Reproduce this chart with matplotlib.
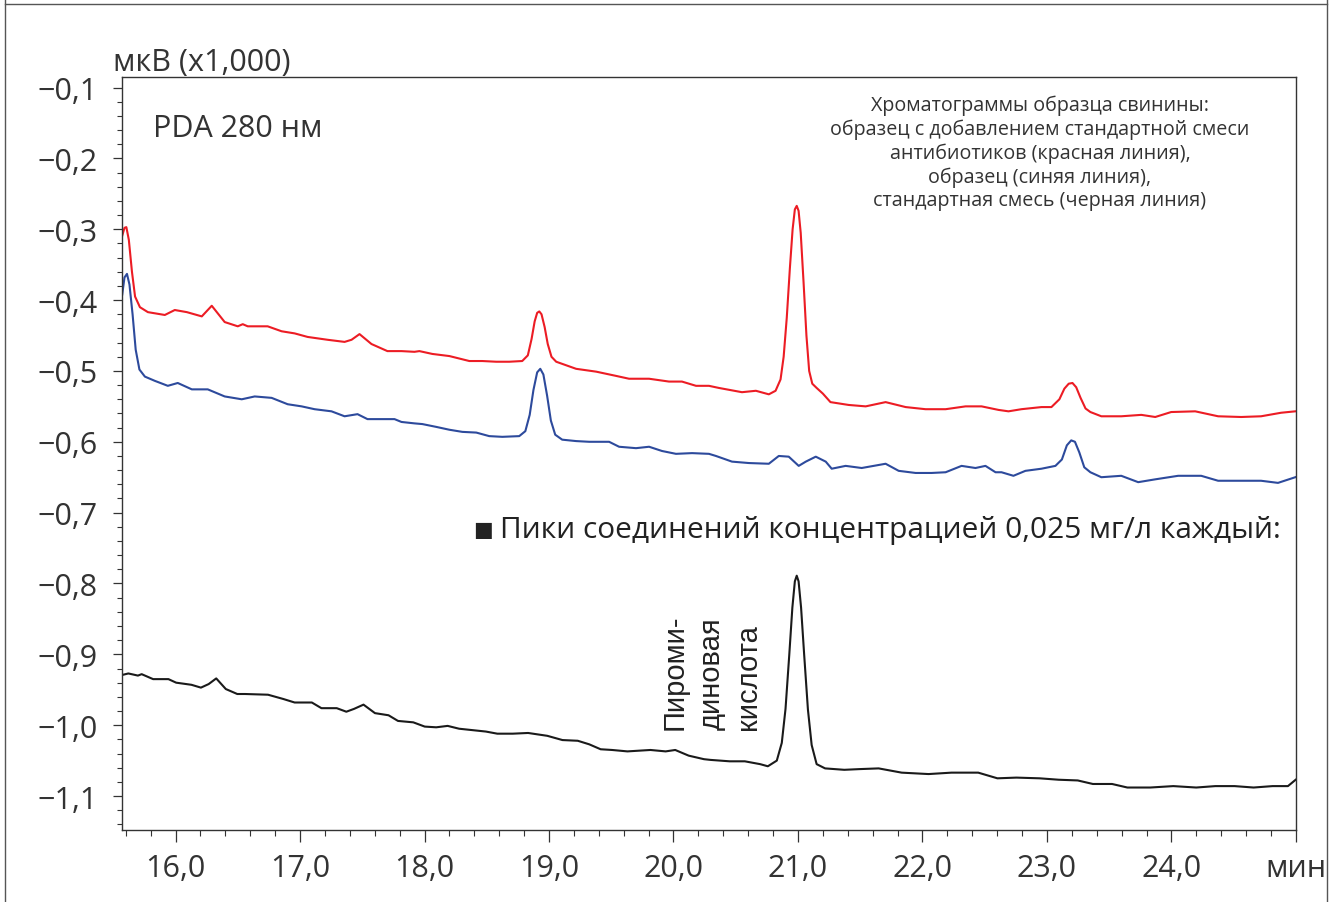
import matplotlib.pyplot as plt
from matplotlib.ticker import MultipleLocator
from matplotlib.lines import Line2D

plt.rcParams['font.family'] = ['Open Sans', 'DejaVu Sans']

# (time, min ; signal, мкВ x1000)
# spiked sample - red
red = [(15.572, -0.309), (15.590, -0.298), (15.605, -0.297), (15.625, -0.315), (15.650, -0.360),
       (15.675, -0.395), (15.714, -0.410), (15.778, -0.417), (15.914, -0.421), (15.994, -0.414),
       (16.091, -0.417), (16.211, -0.423), (16.291, -0.408), (16.395, -0.431), (16.500, -0.437),
       (16.540, -0.434), (16.580, -0.437), (16.740, -0.437), (16.852, -0.444), (16.957, -0.447),
       (17.061, -0.452), (17.221, -0.456), (17.358, -0.459), (17.414, -0.456), (17.478, -0.448),
       (17.574, -0.462), (17.702, -0.472), (17.815, -0.472), (17.919, -0.473), (17.959, -0.472),
       (18.063, -0.476), (18.200, -0.479), (18.360, -0.486), (18.464, -0.486), (18.576, -0.487),
       (18.681, -0.487), (18.785, -0.486), (18.830, -0.478), (18.860, -0.455), (18.885, -0.430),
       (18.905, -0.418), (18.922, -0.416), (18.940, -0.420), (18.965, -0.438), (18.990, -0.462),
       (19.020, -0.480), (19.058, -0.487), (19.218, -0.497), (19.379, -0.501), (19.539, -0.507),
       (19.643, -0.511), (19.804, -0.511), (19.964, -0.515), (20.068, -0.515), (20.181, -0.521),
       (20.285, -0.521), (20.365, -0.524), (20.550, -0.530), (20.662, -0.528), (20.766, -0.533),
       (20.820, -0.528), (20.860, -0.512), (20.885, -0.480), (20.910, -0.425), (20.935, -0.355),
       (20.957, -0.300), (20.975, -0.272), (20.990, -0.267), (21.005, -0.274), (21.022, -0.305),
       (21.045, -0.375), (21.068, -0.450), (21.090, -0.500), (21.115, -0.518), (21.150, -0.524),
       (21.200, -0.532), (21.261, -0.544), (21.407, -0.548), (21.544, -0.550), (21.704, -0.544),
       (21.865, -0.551), (22.025, -0.554), (22.186, -0.554), (22.346, -0.550), (22.475, -0.550),
       (22.611, -0.555), (22.691, -0.557), (22.795, -0.554), (22.956, -0.551), (23.036, -0.551),
       (23.100, -0.540), (23.140, -0.525), (23.175, -0.518), (23.205, -0.517), (23.235, -0.523),
       (23.270, -0.538), (23.310, -0.553), (23.349, -0.558), (23.437, -0.564), (23.597, -0.564),
       (23.758, -0.562), (23.870, -0.565), (23.998, -0.558), (24.191, -0.557), (24.375, -0.564),
       (24.560, -0.565), (24.720, -0.564), (24.881, -0.559), (24.995, -0.557)]

# sample - blue
blue = [(15.572, -0.392), (15.590, -0.368), (15.610, -0.363), (15.630, -0.378), (15.655, -0.420),
        (15.680, -0.470), (15.710, -0.498), (15.754, -0.508), (15.834, -0.514), (15.938, -0.521),
        (16.018, -0.517), (16.131, -0.526), (16.259, -0.526), (16.395, -0.536), (16.532, -0.540),
        (16.636, -0.536), (16.772, -0.538), (16.901, -0.547), (17.013, -0.550), (17.117, -0.554),
        (17.253, -0.557), (17.358, -0.564), (17.462, -0.561), (17.542, -0.568), (17.654, -0.568),
        (17.759, -0.568), (17.815, -0.572), (17.919, -0.574), (17.983, -0.575), (18.095, -0.579),
        (18.200, -0.583), (18.304, -0.586), (18.416, -0.587), (18.520, -0.592), (18.625, -0.593),
        (18.761, -0.592), (18.810, -0.585), (18.845, -0.562), (18.875, -0.527), (18.905, -0.502),
        (18.930, -0.497), (18.955, -0.505), (18.985, -0.535), (19.015, -0.570), (19.050, -0.590),
        (19.106, -0.597), (19.218, -0.599), (19.323, -0.600), (19.483, -0.600), (19.563, -0.607),
        (19.699, -0.609), (19.804, -0.607), (19.908, -0.613), (20.020, -0.617), (20.149, -0.616),
        (20.285, -0.617), (20.341, -0.620), (20.470, -0.628), (20.606, -0.630), (20.766, -0.631),
        (20.846, -0.620), (20.926, -0.621), (21.006, -0.634), (21.063, -0.628), (21.143, -0.621),
        (21.223, -0.628), (21.271, -0.638), (21.383, -0.634), (21.512, -0.637), (21.704, -0.631),
        (21.809, -0.641), (21.945, -0.644), (22.073, -0.644), (22.186, -0.643), (22.314, -0.634),
        (22.426, -0.637), (22.506, -0.634), (22.587, -0.643), (22.635, -0.643), (22.731, -0.648),
        (22.827, -0.641), (22.956, -0.638), (23.068, -0.634), (23.120, -0.625), (23.160, -0.605),
        (23.195, -0.598), (23.225, -0.600), (23.260, -0.615), (23.300, -0.636), (23.349, -0.643),
        (23.437, -0.650), (23.597, -0.648), (23.733, -0.657), (23.870, -0.653), (24.054, -0.648),
        (24.239, -0.648), (24.375, -0.655), (24.560, -0.655), (24.720, -0.655), (24.856, -0.658),
        (24.995, -0.650)]

# standard mix - black
black = [(15.575, -0.929), (15.621, -0.927), (15.698, -0.930), (15.728, -0.928), (15.820, -0.935),
         (15.943, -0.935), (16.005, -0.940), (16.128, -0.943), (16.204, -0.947), (16.266, -0.942),
         (16.327, -0.934), (16.404, -0.949), (16.496, -0.956), (16.558, -0.956), (16.743, -0.957),
         (16.865, -0.963), (16.957, -0.968), (17.095, -0.968), (17.172, -0.976), (17.295, -0.976),
         (17.372, -0.981), (17.434, -0.977), (17.510, -0.971), (17.602, -0.983), (17.711, -0.986),
         (17.787, -0.994), (17.910, -0.996), (18.002, -1.002), (18.094, -1.003), (18.186, -1.001),
         (18.278, -1.005), (18.493, -1.009), (18.585, -1.012), (18.709, -1.012), (18.832, -1.011),
         (18.986, -1.015), (19.108, -1.021), (19.231, -1.022), (19.323, -1.027), (19.415, -1.034),
         (19.507, -1.035), (19.630, -1.037), (19.815, -1.035), (19.937, -1.037), (20.014, -1.035),
         (20.122, -1.043), (20.245, -1.048), (20.297, -1.049), (20.451, -1.051), (20.573, -1.051),
         (20.696, -1.055), (20.758, -1.058), (20.830, -1.050), (20.870, -1.025), (20.900, -0.977),
         (20.930, -0.901), (20.955, -0.834), (20.975, -0.797), (20.990, -0.789), (21.005, -0.797),
         (21.025, -0.834), (21.050, -0.901), (21.080, -0.978), (21.110, -1.028), (21.150, -1.055),
         (21.218, -1.061), (21.372, -1.063), (21.495, -1.062), (21.648, -1.061), (21.833, -1.067),
         (22.049, -1.069), (22.233, -1.067), (22.448, -1.067), (22.602, -1.075), (22.755, -1.074),
         (22.940, -1.075), (23.094, -1.077), (23.247, -1.078), (23.369, -1.083), (23.523, -1.083),
         (23.646, -1.088), (23.830, -1.088), (24.015, -1.086), (24.199, -1.088), (24.353, -1.086),
         (24.507, -1.086), (24.660, -1.088), (24.813, -1.086), (24.936, -1.086), (24.998, -1.077)]

x_ticks = [16, 17, 18, 19, 20, 21, 22, 23, 24, 25]
x_labels = ['16,0', '17,0', '18,0', '19,0', '20,0', '21,0', '22,0', '23,0', '24,0', 'мин']
y_ticks = [-0.1, -0.2, -0.3, -0.4, -0.5, -0.6, -0.7, -0.8, -0.9, -1.0, -1.1]
y_labels = ['−0,1', '−0,2', '−0,3', '−0,4', '−0,5', '−0,6', '−0,7', '−0,8', '−0,9', '−1,0', '−1,1']

txt = '#333333'

fig = plt.figure(figsize=(13.36, 9.03), dpi=100)
ax = fig.add_axes([0.0915, 0.0797, 0.8785, 0.834])

for series, col in [(black, '#1a1a1a'), (blue, '#2d4a9c'), (red, '#ec1c24')]:
    t, v = zip(*series)
    ax.plot(t, v, color=col, lw=1.5, solid_joinstyle='round')

ax.set_xlim(15.572, 25.0)
ax.set_ylim(-1.148, -0.085)

ax.set_xticks(x_ticks)
ax.set_xticklabels(x_labels)
ax.xaxis.set_minor_locator(MultipleLocator(0.2))
ax.set_yticks(y_ticks)
ax.set_yticklabels(y_labels)
ax.yaxis.set_minor_locator(MultipleLocator(0.02))

ax.tick_params(axis='x', which='major', length=8.5, width=0.9, pad=8,
               labelsize=22, colors=txt)
ax.tick_params(axis='x', which='minor', length=4.3, width=0.8, color=txt)
ax.tick_params(axis='y', which='major', length=6.5, width=0.9, pad=11,
               labelsize=22, colors=txt)
ax.tick_params(axis='y', which='minor', length=3.6, width=0.8, color=txt)
for s in ax.spines.values():
    s.set_color(txt)
    s.set_linewidth(1.0)

fig.text(113 / 1336, 1 - 71.5 / 903, 'мкВ (x1,000)', fontsize=22, color=txt,
         va='baseline', ha='left')
fig.text(153 / 1336, 1 - 137 / 903, 'PDA 280 нм', fontsize=22, color=txt,
         va='baseline', ha='left')

fig.text(1040 / 1336, 1 - 96 / 903,
         'Хроматограммы образца свинины:\n'
         'образец с добавлением стандартной смеси\n'
         'антибиотиков (красная линия),\n'
         'образец (синяя линия),\n'
         'стандартная смесь (черная линия)',
         fontsize=14.2, color=txt, ha='center', va='top', multialignment='center',
         linespacing=1.22)

fig.text(473 / 1336, 1 - 536 / 903, '■', family='DejaVu Sans', fontsize=15,
         color='#222222', va='baseline', ha='left')
fig.text(500 / 1336, 1 - 538 / 903,
         'Пики соединений концентрацией 0,025 мг/л каждый:',
         fontsize=21.5, color='#222222', va='baseline', ha='left')

ax.text(19.90, -1.0054, 'Пироми-\nдиновая\nкислота', rotation=90,
        family='Liberation Sans', fontsize=21, color='#222222',
        ha='left', va='bottom', multialignment='left', linespacing=1.38)

# outer frame
for xs in ([5, 5], [1327, 1327]):
    fig.add_artist(Line2D([p / 1336 for p in xs], [1.02, -0.02],
                          transform=fig.transFigure, color='#555555', lw=1.0))
fig.add_artist(Line2D([5 / 1336, 1327 / 1336], [1 - 5 / 903, 1 - 5 / 903],
                      transform=fig.transFigure, color='#555555', lw=1.0))

fig.savefig('out.png', dpi=100)
